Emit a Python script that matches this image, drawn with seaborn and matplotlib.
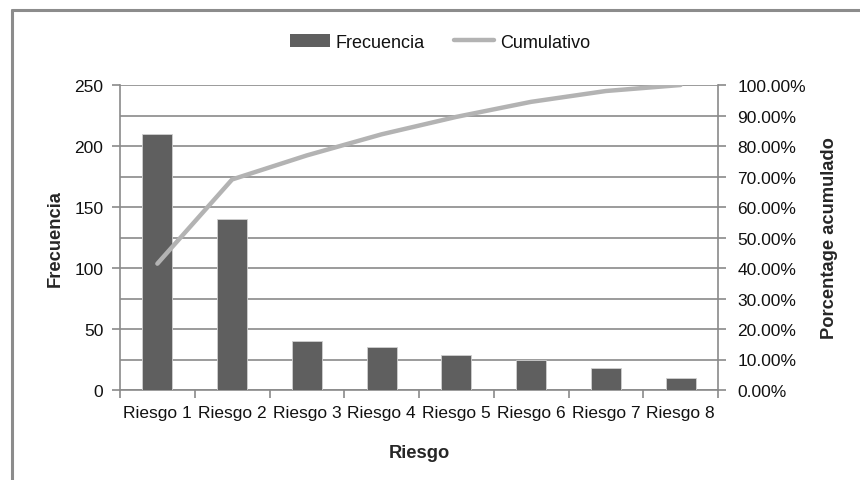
import matplotlib
matplotlib.use("Agg")
import matplotlib.pyplot as plt
from matplotlib.lines import Line2D
from matplotlib.patches import Patch
from matplotlib.ticker import MultipleLocator, FixedLocator, FuncFormatter
import numpy as np
import seaborn as sns

# Pareto data
categories = ["Riesgo 1", "Riesgo 2", "Riesgo 3", "Riesgo 4",
              "Riesgo 5", "Riesgo 6", "Riesgo 7", "Riesgo 8"]
frecuencia = [210, 140, 40, 35, 29, 25, 18, 10]
cumulativo = [41.42, 69.03, 76.92, 83.83, 89.55, 94.48, 98.03, 100.00]

BAR_COLOR = "#5f5f5f"
LINE_COLOR = "#b3b3b3"
GRID_COLOR = "#8a8a8a"
TEXT_COLOR = "#111111"
TICK_FS = 12.5
LABEL_FS = 13.2

sns.set_theme(style="white")
plt.rcParams["font.family"] = ["Liberation Sans", "DejaVu Sans"]
plt.rcParams["text.color"] = TEXT_COLOR

fig = plt.figure(figsize=(8.6, 4.81), dpi=100)
fig.patch.set_facecolor("white")
ax = fig.add_axes([120 / 860, 1 - 391 / 481, (718 - 120) / 860, (391 - 86) / 481])

sns.barplot(x=categories, y=frecuencia, color=BAR_COLOR, width=0.4,
            saturation=1, ax=ax, zorder=3)
for p in ax.patches:
    p.set_edgecolor("#d0d0d0")
    p.set_linewidth(0.6)

ax.set_xlim(-0.5, len(categories) - 0.5)
ax.set_ylim(0, 250)
ax.yaxis.set_major_locator(MultipleLocator(50))
ax.yaxis.set_minor_locator(MultipleLocator(25))
ax.grid(True, which="both", axis="y", color=GRID_COLOR, linewidth=1.2, zorder=0)
ax.set_axisbelow(True)

# tick marks between categories on the x axis
ax.xaxis.set_minor_locator(FixedLocator(np.arange(-0.5, len(categories), 1.0)))
ax.tick_params(axis="x", which="major", length=0, pad=11, labelsize=TICK_FS, labelcolor=TEXT_COLOR)
ax.tick_params(axis="x", which="minor", bottom=True, length=6, width=1.2, color=GRID_COLOR)
ax.tick_params(axis="y", which="major", left=True, length=6, width=1.2, color=GRID_COLOR,
               pad=6, labelsize=TICK_FS, labelcolor=TEXT_COLOR)
ax.tick_params(axis="y", which="minor", left=False, length=0)

for side in ["top", "right"]:
    ax.spines[side].set_visible(False)
for side in ["left", "bottom"]:
    ax.spines[side].set_color(GRID_COLOR)
    ax.spines[side].set_linewidth(1.2)

ax.set_xlabel("Riesgo", fontsize=LABEL_FS, fontweight="bold", labelpad=17)
ax.set_ylabel("Frecuencia", fontsize=LABEL_FS, fontweight="bold", labelpad=7.5)

# cumulative percentage on the secondary axis
ax2 = ax.twinx()
sns.lineplot(x=np.arange(len(categories)), y=cumulativo, color=LINE_COLOR,
             linewidth=3.2, ax=ax2, zorder=4)
ax2.set_ylim(0, 100)
ax2.yaxis.set_major_locator(MultipleLocator(10))
ax2.yaxis.set_major_formatter(FuncFormatter(lambda v, _: f"{v:.2f}%"))
ax2.tick_params(axis="y", right=True, length=6, width=1.2, color=GRID_COLOR,
                pad=8, labelsize=TICK_FS, labelcolor=TEXT_COLOR)
for side in ["top", "left", "bottom"]:
    ax2.spines[side].set_visible(False)
ax2.spines["right"].set_color(GRID_COLOR)
ax2.spines["right"].set_linewidth(1.2)
ax2.grid(False)
ax2.set_ylabel("Porcentage acumulado", fontsize=LABEL_FS, fontweight="bold", labelpad=11)

handles = [Patch(facecolor=BAR_COLOR, edgecolor="none"),
           Line2D([0], [0], color=LINE_COLOR, linewidth=3.2)]
fig.legend(handles, ["Frecuencia", "Cumulativo"], loc="center",
           bbox_to_anchor=(440 / 860, 1 - 43 / 481), ncol=2, frameon=False,
           fontsize=13, handlelength=2.2, handletextpad=0.35, columnspacing=1.6)

# page frame lines along the top and left edges
fig.add_artist(Line2D([12 / 860, 1], [1 - 11 / 481, 1 - 11 / 481],
                      color="#8c8c8c", linewidth=2.2, transform=fig.transFigure))
fig.add_artist(Line2D([12 / 860, 12 / 860], [0, 1 - 11 / 481],
                      color="#8c8c8c", linewidth=2.2, transform=fig.transFigure))

fig.savefig("out.png", dpi=100, facecolor="white")
